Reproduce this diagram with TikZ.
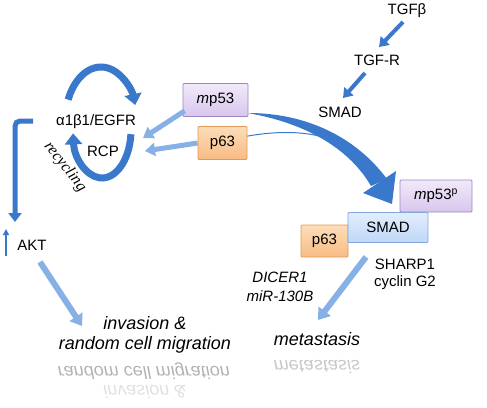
\documentclass[tikz,border=0pt]{standalone}
\usepackage{fontspec}
\setmainfont{Liberation Sans}
\newfontfamily\serifit{Liberation Serif}
\usetikzlibrary{arrows.meta,calc}
\definecolor{darkarrow}{HTML}{3A78CC}
\definecolor{lightarrow}{HTML}{86B0E6}
\definecolor{purtop}{HTML}{F1EAFA}
\definecolor{purbot}{HTML}{D8C6EE}
\definecolor{purdraw}{HTML}{9D86C4}
\definecolor{orgtop}{HTML}{FDDDB8}
\definecolor{orgbot}{HTML}{F8BC84}
\definecolor{orgdraw}{HTML}{E09A58}
\definecolor{smadtop}{HTML}{E2EEFD}
\definecolor{smadbot}{HTML}{BFD7F6}
\definecolor{smaddraw}{HTML}{80A8DB}
\begin{document}
\begin{tikzpicture}[x=1pt,y=-1pt,
  lbl/.style={font=\fontsize{15}{17}\selectfont, inner sep=0pt},
  ilbl/.style={font=\fontsize{15}{19}\selectfont\itshape, inner sep=0pt, align=center},
  big/.style={font=\fontsize{18}{20}\selectfont\itshape, inner sep=0pt, align=center},
  refl/.style={big, yscale=-1, text=black!30},
  box/.style={draw, line width=0.8pt, rounded corners=1pt, inner sep=0pt, font=\fontsize{15}{17}\selectfont},
  purbox/.style={box, draw=purdraw, top color=purtop, bottom color=purbot},
  orgbox/.style={box, draw=orgdraw, top color=orgtop, bottom color=orgbot},
  smadbox/.style={box, draw=smaddraw, top color=smadtop, bottom color=smadbot},
  darr/.style={draw=darkarrow, line width=4pt, -{Triangle[width=12pt,length=9pt]}},
  larr/.style={draw=lightarrow, line width=6pt, -{Triangle[width=15pt,length=11pt]}},
  circarr/.style={draw=darkarrow, line width=7pt, -{Triangle[width=17pt,length=11pt]}},
]
\useasboundingbox (0,0) rectangle (487,407);

% ---------- TGF pathway ----------
\node[lbl] (tgfb) at (407,11) {TGFβ};
\node[lbl] (tgfr) at (377,60) {TGF-R};
\node[lbl] (smadt) at (340,112) {SMAD};
\coordinate (a1s) at (403,22); \coordinate (a1e) at (379,47);
\coordinate (a2s) at (365,73); \coordinate (a2e) at (343,98);
\draw[darr] (a1s) -- (a1e);
\draw[darr] (a2s) -- (a2e);

% ---------- recycling loop ----------
\coordinate (cc) at (101,122);
\coordinate (cb) at (102,130);
\draw[circarr] ($(cc)+(-156:36 and 55)$) arc[start angle=-156, end angle=-18, x radius=36, y radius=55];
\draw[circarr] ($(cb)+(5:29 and 48)$) arc[start angle=5, end angle=176, x radius=29, y radius=48];
\node[lbl, fill=white, inner sep=1pt] (egfr) at (96,122) {α1β1/EGFR};
\node[lbl] (rcp) at (103,151) {RCP};
\node[font=\fontsize{16}{18}\selectfont\serifit\itshape, rotate=-52, inner sep=0pt] (recyc) at (65,167) {recycling};

% ---------- mp53 / p63 left ----------
\node[purbox, minimum width=65pt, minimum height=33pt] (mp53) at (215.5,100) {\textit{m}p53};
\node[orgbox, minimum width=49pt, minimum height=33pt] (p63a) at (222.5,143) {p63};
\coordinate (e1) at (143,138);
\coordinate (e2) at (145,151);
\draw[larr, line width=5pt, -{Triangle[width=13pt,length=10pt]}] (mp53.south west) ++(2,-6) coordinate (m1) -- (e1);
\draw[larr, line width=5pt, -{Triangle[width=13pt,length=10pt]}] (p63a.west) coordinate (p1) -- (e2);

% ---------- big curved arrow ----------
\coordinate (o1) at (248,113);
\coordinate (o2) at (387,179);
\coordinate (i1) at (371,186);
\coordinate (tip) at (392,204);
\fill[darkarrow] (o1) .. controls (305,113) and (355,136) .. (o2)
  -- (i1) .. controls (350,150) and (310,126) .. (258,115) -- cycle;
\draw[darkarrow, line width=1pt] (p63a.north east) ++(0,10) coordinate (p2)
  .. controls (300,127) and (335,136) .. (357,154);
\fill[darkarrow] (396,171) -- (tip) -- (363,193) -- cycle;

% ---------- complex ----------
\node[orgbox, minimum width=47pt, minimum height=32pt] (p63b) at (324.5,241) {p63};
\node[purbox, minimum width=72pt, minimum height=32pt] (mp53p) at (436,196) {\textit{m}p53\textsuperscript{p}};
\node[smadbox, minimum width=80pt, minimum height=30pt] (smadb) at (388,227.5) {SMAD};

\node[lbl, align=center] (sharp) at (405,274) {SHARP1\\cyclin G2};
\node[ilbl] (dicer) at (280,287) {DICER1\\miR-130B};

\coordinate (s1) at (366,257);
\coordinate (s2) at (318,320);
\draw[larr] (s1) -- (s2);

% metastasis
\node[big] (met) at (317,339) {metastasis};
\node[refl, text=black!22] (metr) at (317,367) {metastasis};

% ---------- AKT branch ----------
\coordinate (b1) at (33,121);
\coordinate (b2) at (15,222);
\draw[draw=darkarrow, line width=5pt, rounded corners=5pt, -{Triangle[width=13pt,length=9pt]}] (b1) -- (15,121) -- (b2);
\coordinate (u1) at (6,256);
\coordinate (u2) at (6,229);
\draw[draw=darkarrow, line width=1.5pt, -{Triangle[width=6pt,length=6pt]}] (u1) -- (u2);
\node[lbl] (akt) at (32,245) {AKT};
\coordinate (k1) at (40,262);
\coordinate (k2) at (82,326);
\draw[larr] (k1) -- (k2);

\node[big] (inv) at (145,335) {invasion \&\\random cell migration};
\node[refl] (invr1) at (144,371) {random cell migration};
\node[refl, text=black!12] (invr2) at (145,392) {invasion \&};
\end{tikzpicture}
\end{document}
